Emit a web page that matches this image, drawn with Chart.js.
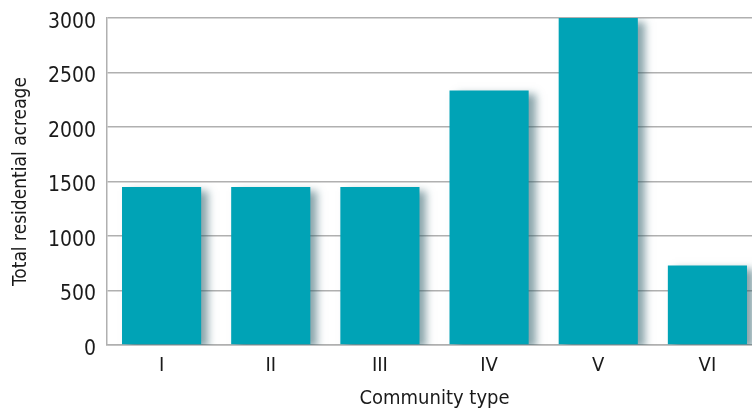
<!DOCTYPE html>
<html>
<head>
<meta charset="utf-8">
<script src="https://cdn.jsdelivr.net/npm/chart.js@4/dist/chart.umd.min.js"></script>
<style>
  html, body { margin: 0; padding: 0; background: #fff; overflow: hidden; }
  #wrap { position: relative; width: 762px; height: 411px; }
</style>
</head>
<body>
<div id="wrap"><canvas id="acreageChart"></canvas></div>
<script>
// Community types and total residential acreage
const communityTypes = ["I", "II", "III", "IV", "V", "VI"];
const acreage = [1450, 1450, 1450, 2335, 3000, 730];
const yTicks = [0, 500, 1000, 1500, 2000, 2500, 3000];

const FONT = "'DejaVu Sans Condensed', 'Roboto', sans-serif";

// soft drop shadow behind the bars
const barShadow = {
  id: "barShadow",
  beforeDatasetsDraw(chart) {
    const ctx = chart.ctx;
    ctx.save();
    ctx.shadowColor = "rgba(40, 90, 100, 0.55)";
    ctx.shadowOffsetX = 7;
    ctx.shadowOffsetY = 4;
    ctx.shadowBlur = 8;
  },
  afterDatasetsDraw(chart) {
    chart.ctx.restore();
  },
};

const ctx = document.getElementById("acreageChart").getContext("2d");

new Chart(ctx, {
  type: "bar",
  data: {
    labels: communityTypes,
    datasets: [
      {
        data: acreage,
        backgroundColor: "#00a3b6",
        borderWidth: 0,
        categoryPercentage: 1,
        barPercentage: 0.725,
      },
    ],
  },
  plugins: [barShadow],
  options: {
    responsive: true,
    maintainAspectRatio: false,
    animation: false,
    layout: { padding: { top: 18, right: 0, left: 0, bottom: 0 } },
    plugins: {
      legend: { display: false },
      tooltip: { enabled: false },
    },
    scales: {
      x: {
        grid: { display: false, drawTicks: false },
        border: { color: "#b0b0b0", width: 1.5 },
        ticks: {
          color: "#1a1a1a",
          font: { family: FONT, size: 20 },
          padding: 9,
        },
        title: {
          display: true,
          text: "Community type",
          color: "#1a1a1a",
          font: { family: FONT, size: 20 },
          padding: { top: 3, bottom: 0 },
        },
        afterFit(scale) {
          scale.height = 66;
        },
      },
      y: {
        min: 0,
        max: 3000,
        afterBuildTicks(scale) {
          scale.ticks = yTicks.map((v) => ({ value: v }));
        },
        grid: { color: "#b0b0b0", lineWidth: 1.5, drawTicks: false },
        border: { color: "#b0b0b0", width: 1.5 },
        ticks: {
          color: "#1a1a1a",
          font: { family: FONT, size: 21, lineHeight: "9px" },
          padding: 11,
          // empty first line nudges the number a few px below its gridline
          callback: (v) => ["", String(v)],
        },
        title: {
          display: true,
          text: "Total residential acreage",
          color: "#1a1a1a",
          font: { family: FONT, size: 19 },
          padding: { top: 10, bottom: 0 },
        },
        afterFit(scale) {
          scale.width = 107;
          scale.paddingTop = 0;
        },
      },
    },
  },
});
</script>
</body>
</html>
